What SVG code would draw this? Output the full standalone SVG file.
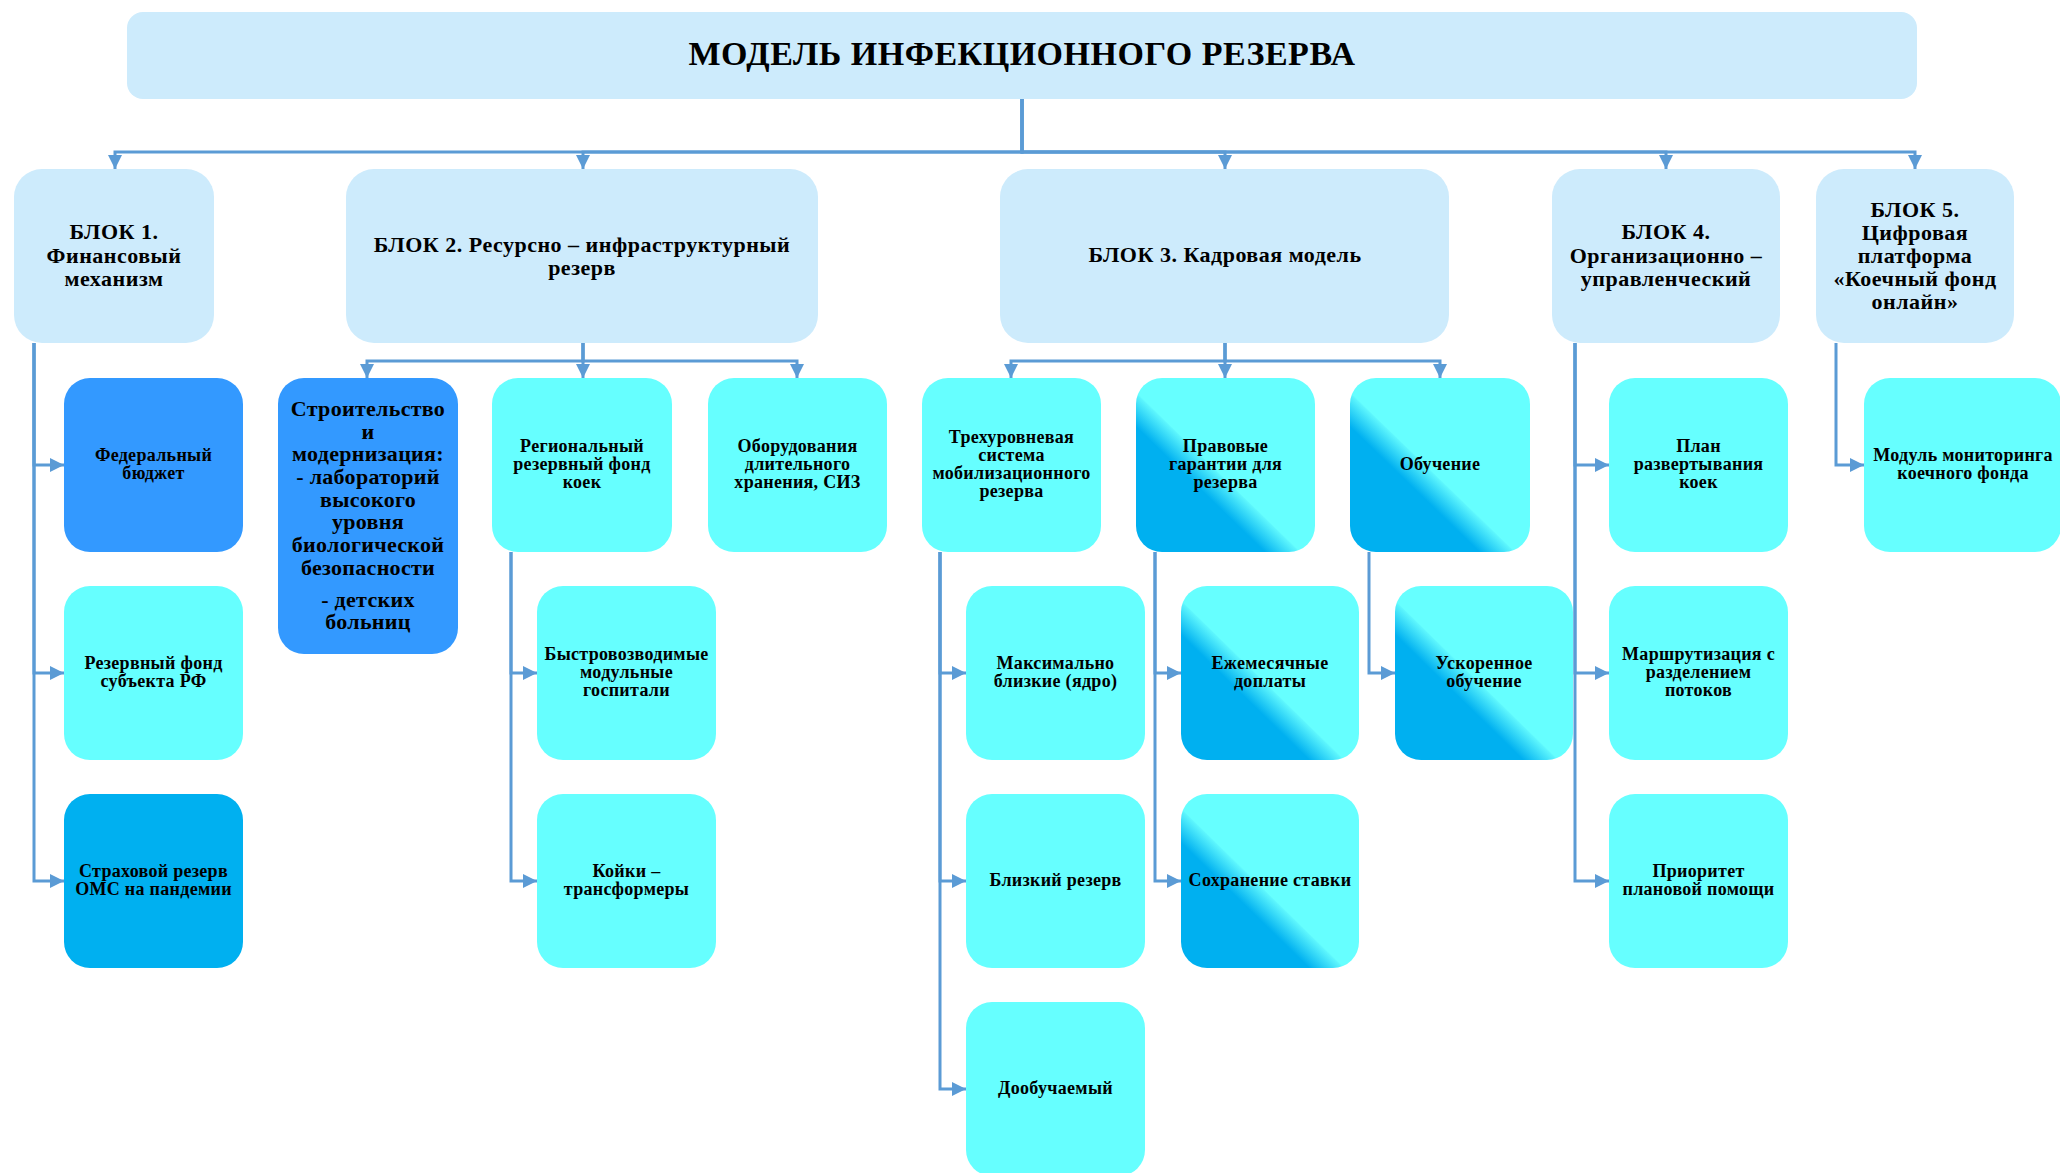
<svg xmlns="http://www.w3.org/2000/svg" width="2060" height="1173" viewBox="0 0 2060 1173">
  <style>
    .t { font-family: "Liberation Serif", "Times New Roman", serif; font-weight: bold; fill: #000; text-anchor: middle; }
    .title { font-size: 34px; letter-spacing: 0.5px; }
    .blk { font-size: 22px; letter-spacing: 0.5px; }
    .big { font-size: 22px; letter-spacing: 0.3px; }
    .leaf { font-size: 18px; letter-spacing: 0.3px; }
    .head { fill: #CDEBFC; }
    .cyan { fill: #66FFFF; }
    .blue { fill: #3399FF; }
    .sky { fill: #00B0F0; }
    .band { fill: url(#band); }
    .link { fill: none; stroke: #5B9BD5; stroke-width: 3; marker-end: url(#arrow); }
  </style>
  <defs>
    <marker id="arrow" markerUnits="userSpaceOnUse" markerWidth="15" markerHeight="14" refX="14" refY="7" orient="auto">
      <path d="M0,0 L14,7 L0,14 Z" fill="#5B9BD5"/>
    </marker>
    <linearGradient id="band" x1="0" y1="1" x2="1" y2="0">
      <stop offset="0" stop-color="#00B0F0"/>
      <stop offset="0.36" stop-color="#00B0F0"/>
      <stop offset="0.455" stop-color="#5CF5FD"/>
      <stop offset="0.46" stop-color="#66FFFF"/>
      <stop offset="1" stop-color="#66FFFF"/>
    </linearGradient>
  </defs>
  <rect width="2060" height="1173" fill="#FFFFFF"/>

  <!-- connectors -->
  <g id="connectors">
    <path class="link" d="M1022,99 V152 H115 V169"/>
    <path class="link" d="M1022,99 V152 H583 V169"/>
    <path class="link" d="M1022,99 V152 H1225 V169"/>
    <path class="link" d="M1022,99 V152 H1666 V169"/>
    <path class="link" d="M1022,99 V152 H1915 V169"/>

    <path class="link" d="M34,343 V465 H64"/>
    <path class="link" d="M34,343 V673 H64"/>
    <path class="link" d="M34,343 V881 H64"/>

    <path class="link" d="M583,343 V361 H367 V378"/>
    <path class="link" d="M583,343 V378"/>
    <path class="link" d="M583,343 V361 H797 V378"/>
    <path class="link" d="M511,552 V673 H537"/>
    <path class="link" d="M511,552 V881 H537"/>

    <path class="link" d="M1225,343 V361 H1011 V378"/>
    <path class="link" d="M1225,343 V378"/>
    <path class="link" d="M1225,343 V361 H1440 V378"/>
    <path class="link" d="M940,552 V673 H966"/>
    <path class="link" d="M940,552 V881 H966"/>
    <path class="link" d="M940,552 V1089 H966"/>
    <path class="link" d="M1155,552 V673 H1181"/>
    <path class="link" d="M1155,552 V881 H1181"/>
    <path class="link" d="M1369,552 V673 H1395"/>

    <path class="link" d="M1575,343 V465 H1609"/>
    <path class="link" d="M1575,343 V673 H1609"/>
    <path class="link" d="M1575,343 V881 H1609"/>

    <path class="link" d="M1836,343 V465 H1864"/>
  </g>

  <!-- root -->
  <g id="root">
    <rect class="head" x="127" y="12" width="1790" height="87" rx="16"/>
    <text class="t title" x="1022" y="65">МОДЕЛЬ ИНФЕКЦИОННОГО РЕЗЕРВА</text>
  </g>

  <!-- blocks -->
  <g id="block1">
    <rect class="head" x="14" y="169" width="200" height="174" rx="28"/>
    <text class="t blk" x="114" y="239">БЛОК 1.</text>
    <text class="t blk" x="114" y="263">Финансовый</text>
    <text class="t blk" x="114" y="286">механизм</text>
  </g>
  <g id="block2">
    <rect class="head" x="346" y="169" width="472" height="174" rx="28"/>
    <text class="t blk" x="582" y="252">БЛОК 2. Ресурсно – инфраструктурный</text>
    <text class="t blk" x="582" y="275">резерв</text>
  </g>
  <g id="block3">
    <rect class="head" x="1000" y="169" width="449" height="174" rx="28"/>
    <text class="t blk" x="1225" y="262">БЛОК 3. Кадровая модель</text>
  </g>
  <g id="block4">
    <rect class="head" x="1552" y="169" width="228" height="174" rx="28"/>
    <text class="t blk" x="1666" y="239">БЛОК 4.</text>
    <text class="t blk" x="1666" y="263">Организационно –</text>
    <text class="t blk" x="1666" y="286">управленческий</text>
  </g>
  <g id="block5">
    <rect class="head" x="1816" y="169" width="198" height="174" rx="28"/>
    <text class="t blk" x="1915" y="217">БЛОК 5.</text>
    <text class="t blk" x="1915" y="240">Цифровая</text>
    <text class="t blk" x="1915" y="263">платформа</text>
    <text class="t blk" x="1915" y="286">«Коечный фонд</text>
    <text class="t blk" x="1915" y="309">онлайн»</text>
  </g>

  <!-- block 1 children -->
  <g id="federal-budget">
    <rect class="blue" x="64" y="378" width="179" height="174" rx="26"/>
    <text class="t leaf" x="153.5" y="461">Федеральный</text>
    <text class="t leaf" x="153.5" y="479">бюджет</text>
  </g>
  <g id="regional-fund">
    <rect class="cyan" x="64" y="586" width="179" height="174" rx="26"/>
    <text class="t leaf" x="153.5" y="669">Резервный фонд</text>
    <text class="t leaf" x="153.5" y="687">субъекта РФ</text>
  </g>
  <g id="oms-reserve">
    <rect class="sky" x="64" y="794" width="179" height="174" rx="26"/>
    <text class="t leaf" x="153.5" y="877">Страховой резерв</text>
    <text class="t leaf" x="153.5" y="895">ОМС на пандемии</text>
  </g>

  <!-- block 2 children -->
  <g id="construction">
    <rect class="blue" x="278" y="378" width="180" height="276" rx="26"/>
    <text class="t big" x="368" y="416">Строительство</text>
    <text class="t big" x="368" y="439">и</text>
    <text class="t big" x="368" y="461">модернизация:</text>
    <text class="t big" x="368" y="484">- лабораторий</text>
    <text class="t big" x="368" y="507">высокого</text>
    <text class="t big" x="368" y="529">уровня</text>
    <text class="t big" x="368" y="552">биологической</text>
    <text class="t big" x="368" y="575">безопасности</text>
    <text class="t big" x="368" y="607">- детских</text>
    <text class="t big" x="368" y="629">больниц</text>
  </g>
  <g id="bed-fund">
    <rect class="cyan" x="492" y="378" width="180" height="174" rx="26"/>
    <text class="t leaf" x="582" y="452">Региональный</text>
    <text class="t leaf" x="582" y="470">резервный фонд</text>
    <text class="t leaf" x="582" y="488">коек</text>
  </g>
  <g id="modular-hospitals">
    <rect class="cyan" x="537" y="586" width="179" height="174" rx="26"/>
    <text class="t leaf" x="626.5" y="660">Быстровозводимые</text>
    <text class="t leaf" x="626.5" y="678">модульные</text>
    <text class="t leaf" x="626.5" y="696">госпитали</text>
  </g>
  <g id="transformer-beds">
    <rect class="cyan" x="537" y="794" width="179" height="174" rx="26"/>
    <text class="t leaf" x="626.5" y="877">Койки –</text>
    <text class="t leaf" x="626.5" y="895">трансформеры</text>
  </g>
  <g id="equipment">
    <rect class="cyan" x="708" y="378" width="179" height="174" rx="26"/>
    <text class="t leaf" x="797.5" y="452">Оборудования</text>
    <text class="t leaf" x="797.5" y="470">длительного</text>
    <text class="t leaf" x="797.5" y="488">хранения, СИЗ</text>
  </g>

  <!-- block 3 children -->
  <g id="three-level">
    <rect class="cyan" x="922" y="378" width="179" height="174" rx="26"/>
    <text class="t leaf" x="1011.5" y="443">Трехуровневая</text>
    <text class="t leaf" x="1011.5" y="461">система</text>
    <text class="t leaf" x="1011.5" y="479">мобилизационного</text>
    <text class="t leaf" x="1011.5" y="497">резерва</text>
  </g>
  <g id="core">
    <rect class="cyan" x="966" y="586" width="179" height="174" rx="26"/>
    <text class="t leaf" x="1055.5" y="669">Максимально</text>
    <text class="t leaf" x="1055.5" y="687">близкие (ядро)</text>
  </g>
  <g id="near-reserve">
    <rect class="cyan" x="966" y="794" width="179" height="174" rx="26"/>
    <text class="t leaf" x="1055.5" y="886">Близкий резерв</text>
  </g>
  <g id="retrained">
    <rect class="cyan" x="966" y="1002" width="179" height="174" rx="26"/>
    <text class="t leaf" x="1055.5" y="1094">Дообучаемый</text>
  </g>
  <g id="legal-guarantees">
    <rect class="band" x="1136" y="378" width="179" height="174" rx="26"/>
    <text class="t leaf" x="1225.5" y="452">Правовые</text>
    <text class="t leaf" x="1225.5" y="470">гарантии для</text>
    <text class="t leaf" x="1225.5" y="488">резерва</text>
  </g>
  <g id="monthly-pay">
    <rect class="band" x="1181" y="586" width="178" height="174" rx="26"/>
    <text class="t leaf" x="1270" y="669">Ежемесячные</text>
    <text class="t leaf" x="1270" y="687">доплаты</text>
  </g>
  <g id="rate-kept">
    <rect class="band" x="1181" y="794" width="178" height="174" rx="26"/>
    <text class="t leaf" x="1270" y="886">Сохранение ставки</text>
  </g>
  <g id="training">
    <rect class="band" x="1350" y="378" width="180" height="174" rx="26"/>
    <text class="t leaf" x="1440" y="470">Обучение</text>
  </g>
  <g id="fast-training">
    <rect class="band" x="1395" y="586" width="178" height="174" rx="26"/>
    <text class="t leaf" x="1484" y="669">Ускоренное</text>
    <text class="t leaf" x="1484" y="687">обучение</text>
  </g>

  <!-- block 4 children -->
  <g id="deploy-plan">
    <rect class="cyan" x="1609" y="378" width="179" height="174" rx="26"/>
    <text class="t leaf" x="1698.5" y="452">План</text>
    <text class="t leaf" x="1698.5" y="470">развертывания</text>
    <text class="t leaf" x="1698.5" y="488">коек</text>
  </g>
  <g id="routing">
    <rect class="cyan" x="1609" y="586" width="179" height="174" rx="26"/>
    <text class="t leaf" x="1698.5" y="660">Маршрутизация с</text>
    <text class="t leaf" x="1698.5" y="678">разделением</text>
    <text class="t leaf" x="1698.5" y="696">потоков</text>
  </g>
  <g id="planned-care">
    <rect class="cyan" x="1609" y="794" width="179" height="174" rx="26"/>
    <text class="t leaf" x="1698.5" y="877">Приоритет</text>
    <text class="t leaf" x="1698.5" y="895">плановой помощи</text>
  </g>

  <!-- block 5 children -->
  <g id="monitoring">
    <rect class="cyan" x="1864" y="378" width="197" height="174" rx="26"/>
    <text class="t leaf" x="1963" y="461">Модуль мониторинга</text>
    <text class="t leaf" x="1963" y="479">коечного фонда</text>
  </g>
</svg>
